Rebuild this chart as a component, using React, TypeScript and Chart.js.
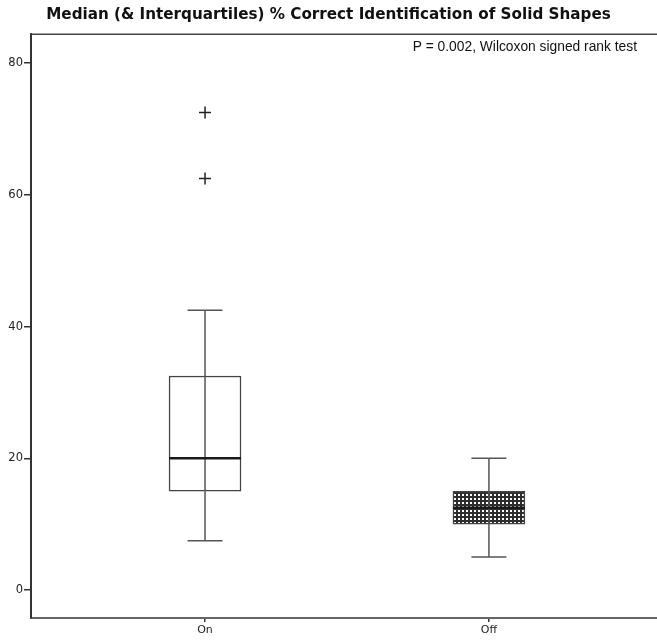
import React, { useEffect, useRef } from "react";
import { Chart, registerables } from "chart.js";

Chart.register(...registerables);

const categories = ["On", "Off"];
const q1 = [15, 10];
const medians = [20, 12.5];
const q3 = [32.5, 15];
const whiskerLow = [7.5, 5];
const whiskerHigh = [42.5, 20];
const outlierCategory = [1, 1];
const outlierValues = [62.5, 72.5];
const yTicks = [0, 20, 40, 60, 80];
const titleText = "Median (& Interquartiles) % Correct Identification of Solid Shapes";
const noteText = "P = 0.002, Wilcoxon signed rank test";

function makePattern(): CanvasPattern | string {
  const c = document.createElement("canvas");
  c.width = 4;
  c.height = 4;
  const g = c.getContext("2d");
  if (!g) return "#999";
  g.fillStyle = "#ffffff";
  g.fillRect(0, 0, 4, 4);
  g.fillStyle = "#2e2e2e";
  g.fillRect(0, 0, 4, 2);
  g.fillRect(0, 0, 2, 4);
  const p = g.createPattern(c, "repeat");
  return p || "#999";
}

const boxPlugin = {
  id: "boxExtras",
  afterDatasetsDraw(chart: any) {
    const { ctx, scales, chartArea } = chart;
    const xs = scales.x;
    const ys = scales.y;
    ctx.save();
    ctx.strokeStyle = "#444";
    ctx.lineWidth = 1.5;
    ctx.beginPath();
    ctx.moveTo(chartArea.left, chartArea.top);
    ctx.lineTo(chartArea.right, chartArea.top);
    ctx.stroke();
    categories.forEach((_, i) => {
      const x = xs.getPixelForValue(i + 1);
      const capHalf = 17.5;
      const boxHalf = 36;
      ctx.strokeStyle = "#555";
      ctx.lineWidth = 1.5;
      ctx.beginPath();
      ctx.moveTo(x, ys.getPixelForValue(whiskerLow[i]));
      ctx.lineTo(x, ys.getPixelForValue(whiskerHigh[i]));
      ctx.moveTo(x - capHalf, ys.getPixelForValue(whiskerLow[i]));
      ctx.lineTo(x + capHalf, ys.getPixelForValue(whiskerLow[i]));
      ctx.moveTo(x - capHalf, ys.getPixelForValue(whiskerHigh[i]));
      ctx.lineTo(x + capHalf, ys.getPixelForValue(whiskerHigh[i]));
      ctx.stroke();
      ctx.strokeStyle = "#1a1a1a";
      ctx.lineWidth = 2.5;
      ctx.beginPath();
      ctx.moveTo(x - boxHalf, ys.getPixelForValue(medians[i]));
      ctx.lineTo(x + boxHalf, ys.getPixelForValue(medians[i]));
      ctx.stroke();
    });
    ctx.fillStyle = "#111";
    ctx.font = "13.8px 'Liberation Sans', Arial, sans-serif";
    ctx.textAlign = "right";
    ctx.textBaseline = "middle";
    ctx.fillText(noteText, 637, 47);
    ctx.restore();
  },
};

export default function App() {
  const ref = useRef<HTMLCanvasElement | null>(null);
  useEffect(() => {
    document.body.style.margin = "0";
    const canvas = ref.current;
    if (!canvas) return;
    const pattern = makePattern();
    const chart = new Chart(canvas, {
      type: "bar",
      data: {
        datasets: [
          {
            type: "bar",
            data: categories.map((_, i) => ({ x: i + 1, y: [q1[i], q3[i]] })) as any,
            backgroundColor: ["#ffffff", pattern] as any,
            borderColor: "#444",
            borderWidth: 1.5,
            borderSkipped: false,
            barThickness: 72,
          } as any,
          {
            type: "scatter",
            data: outlierValues.map((v, i) => ({ x: outlierCategory[i], y: v })),
            pointStyle: "cross",
            pointRadius: 6,
            borderColor: "#222",
            borderWidth: 1.5,
            showLine: false,
          } as any,
        ],
      },
      options: {
        animation: false,
        responsive: false,
        maintainAspectRatio: false,
        layout: { padding: 0, autoPadding: false },
        plugins: {
          legend: { display: false },
          tooltip: { enabled: false },
          title: {
            display: true,
            text: titleText,
            color: "#111",
            font: { family: "'DejaVu Sans', sans-serif", weight: "bold", size: 15.2 },
            padding: { top: 6, bottom: 10 },
          },
        },
        scales: {
          x: {
            type: "linear",
            offset: false,
            min: 0.387,
            max: 2.592,
            afterBuildTicks: (s: any) => {
              s.ticks = categories.map((_, i) => ({ value: i + 1 }));
            },
            afterFit: (s: any) => {
              s.height = 22;
              s.paddingLeft = 0;
              s.paddingRight = 0;
            },
            ticks: {
              callback: (v: any) => categories[Number(v) - 1] ?? "",
              color: "#222",
              font: { family: "'DejaVu Sans', sans-serif", size: 11 },
              padding: 2,
              maxRotation: 0,
            },
            grid: { display: true, offset: false, drawOnChartArea: false, drawTicks: true, tickLength: 4, color: "#333", lineWidth: 1.5 },
            border: { display: true, color: "#666", width: 2 },
          },
          y: {
            type: "linear",
            min: -4.25,
            max: 84.4,
            afterBuildTicks: (s: any) => {
              s.ticks = yTicks.map((v) => ({ value: v }));
            },
            afterFit: (s: any) => {
              s.width = 31;
            },
            ticks: {
              color: "#222",
              font: { family: "'DejaVu Sans', sans-serif", size: 11.5 },
              padding: 1,
            },
            grid: { display: true, drawOnChartArea: false, drawTicks: true, tickLength: 7, color: "#333", lineWidth: 1.5 },
            border: { display: true, color: "#333", width: 2 },
          },
        },
      },
      plugins: [boxPlugin],
    } as any);
    return () => chart.destroy();
  }, []);
  return (
    <div style={{ width: 657, height: 640 }}>
      <canvas ref={ref} width={657} height={640} />
    </div>
  );
}
